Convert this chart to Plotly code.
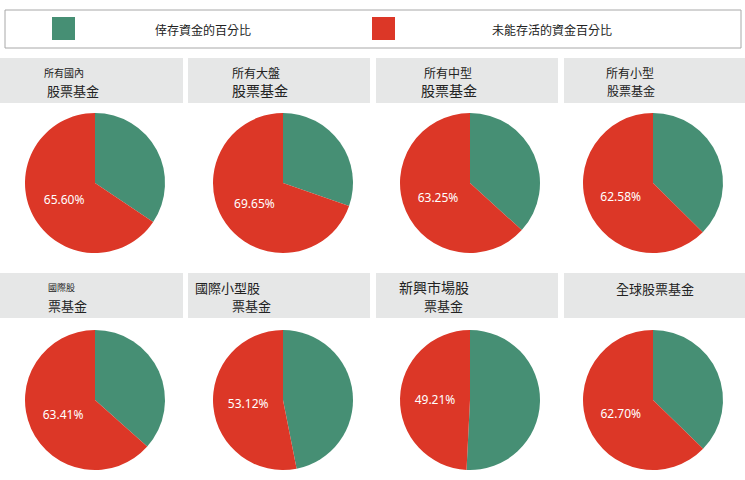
import plotly.graph_objects as go

W, H = 745, 480

legend_labels = ["倖存資金的百分比", "未能存活的資金百分比"]
colors = ["#468F74", "#DC3727"]

titles_top = ["所有國內", "所有大盤", "所有中型", "所有小型",
              "國際股", "國際小型股", "新興市場股", "全球股票基金"]
titles_bottom = ["股票基金", "股票基金", "股票基金", "股票基金",
                 "票基金", "票基金", "票基金", ""]
survived = [34.40, 30.35, 36.75, 37.42, 36.59, 46.88, 50.79, 37.30]
failed = [65.60, 69.65, 63.25, 62.58, 63.41, 53.12, 49.21, 62.70]


def px(x):
    return x / W


def py(y):
    return 1 - y / H


col_boxes = [(0, 183), (188, 370), (376, 558), (564, 745)]
pie_x = [(25, 165), (213, 353), (400, 540), (583, 723)]
pie_y = [(113, 253), (330, 470)]
head_y = [(58, 103), (273, 318)]

# title placement: (x of line 1, size 1, x of line 2, size 2)
title_fmt = [
    (42, 10, 45, 13), (230, 12, 230, 14), (422, 12, 419, 14), (604, 12, 605, 12),
    (46, 9, 46, 13), (193, 13, 230, 13), (397, 14, 422, 13), (614, 13, 0, 13),
]

fig = go.Figure()
shapes = []
annotations = []

for i in range(8):
    r, c = divmod(i, 4)
    fig.add_trace(go.Pie(
        labels=legend_labels,
        values=[survived[i], failed[i]],
        texttemplate=["", "%{value:.2f}%"],
        textposition="inside",
        insidetextorientation="horizontal",
        textfont=dict(color="white", size=12, family="Noto Sans"),
        marker=dict(colors=colors, line=dict(width=0)),
        sort=False,
        direction="clockwise",
        rotation=0,
        showlegend=False,
        domain=dict(x=[px(pie_x[c][0]), px(pie_x[c][1])],
                    y=[py(pie_y[r][1]), py(pie_y[r][0])]),
    ))

    x0, x1 = col_boxes[c]
    y0, y1 = head_y[r]
    shapes.append(dict(type="rect", xref="paper", yref="paper",
                       x0=px(x0), x1=px(x1), y0=py(y1), y1=py(y0),
                       fillcolor="#E6E7E7", line=dict(width=0), layer="below"))

    tx1, ts1, tx2, ts2 = title_fmt[i]
    if titles_bottom[i]:
        annotations.append(dict(text=titles_top[i], x=px(tx1), y=py(y0 + 14),
                                xref="paper", yref="paper", xanchor="left", yanchor="middle",
                                showarrow=False, font=dict(size=ts1, color="#222")))
        annotations.append(dict(text=titles_bottom[i], x=px(tx2), y=py(y0 + 32),
                                xref="paper", yref="paper", xanchor="left", yanchor="middle",
                                showarrow=False, font=dict(size=ts2, color="#222")))
    else:
        annotations.append(dict(text=titles_top[i], x=px(tx1), y=py(y0 + 15),
                                xref="paper", yref="paper", xanchor="left", yanchor="middle",
                                showarrow=False, font=dict(size=ts1, color="#222")))

# legend box
shapes.append(dict(type="rect", xref="paper", yref="paper",
                   x0=px(5), x1=px(741), y0=py(48), y1=py(10),
                   fillcolor="white", line=dict(color="#A8A8A8", width=1)))
for sx, tx, lab, colr in [(52, 153, legend_labels[0], colors[0]),
                          (372, 490, legend_labels[1], colors[1])]:
    shapes.append(dict(type="rect", xref="paper", yref="paper",
                       x0=px(sx), x1=px(sx + 23), y0=py(40), y1=py(17),
                       fillcolor=colr, line=dict(width=0)))
    annotations.append(dict(text=lab, x=px(tx), y=py(29), xref="paper", yref="paper",
                            xanchor="left", yanchor="middle", showarrow=False,
                            font=dict(size=12, color="#222")))

fig.update_layout(
    width=W, height=H,
    margin=dict(l=0, r=0, t=0, b=0),
    paper_bgcolor="white",
    font=dict(family="Noto Sans CJK TC, Noto Sans"),
    shapes=shapes,
    annotations=annotations,
)

# drop the default page margin so the figure sits at the window's corner
fig.write_html("out.html", config={"displayModeBar": False},
               post_script="document.body.style.margin='0';")
